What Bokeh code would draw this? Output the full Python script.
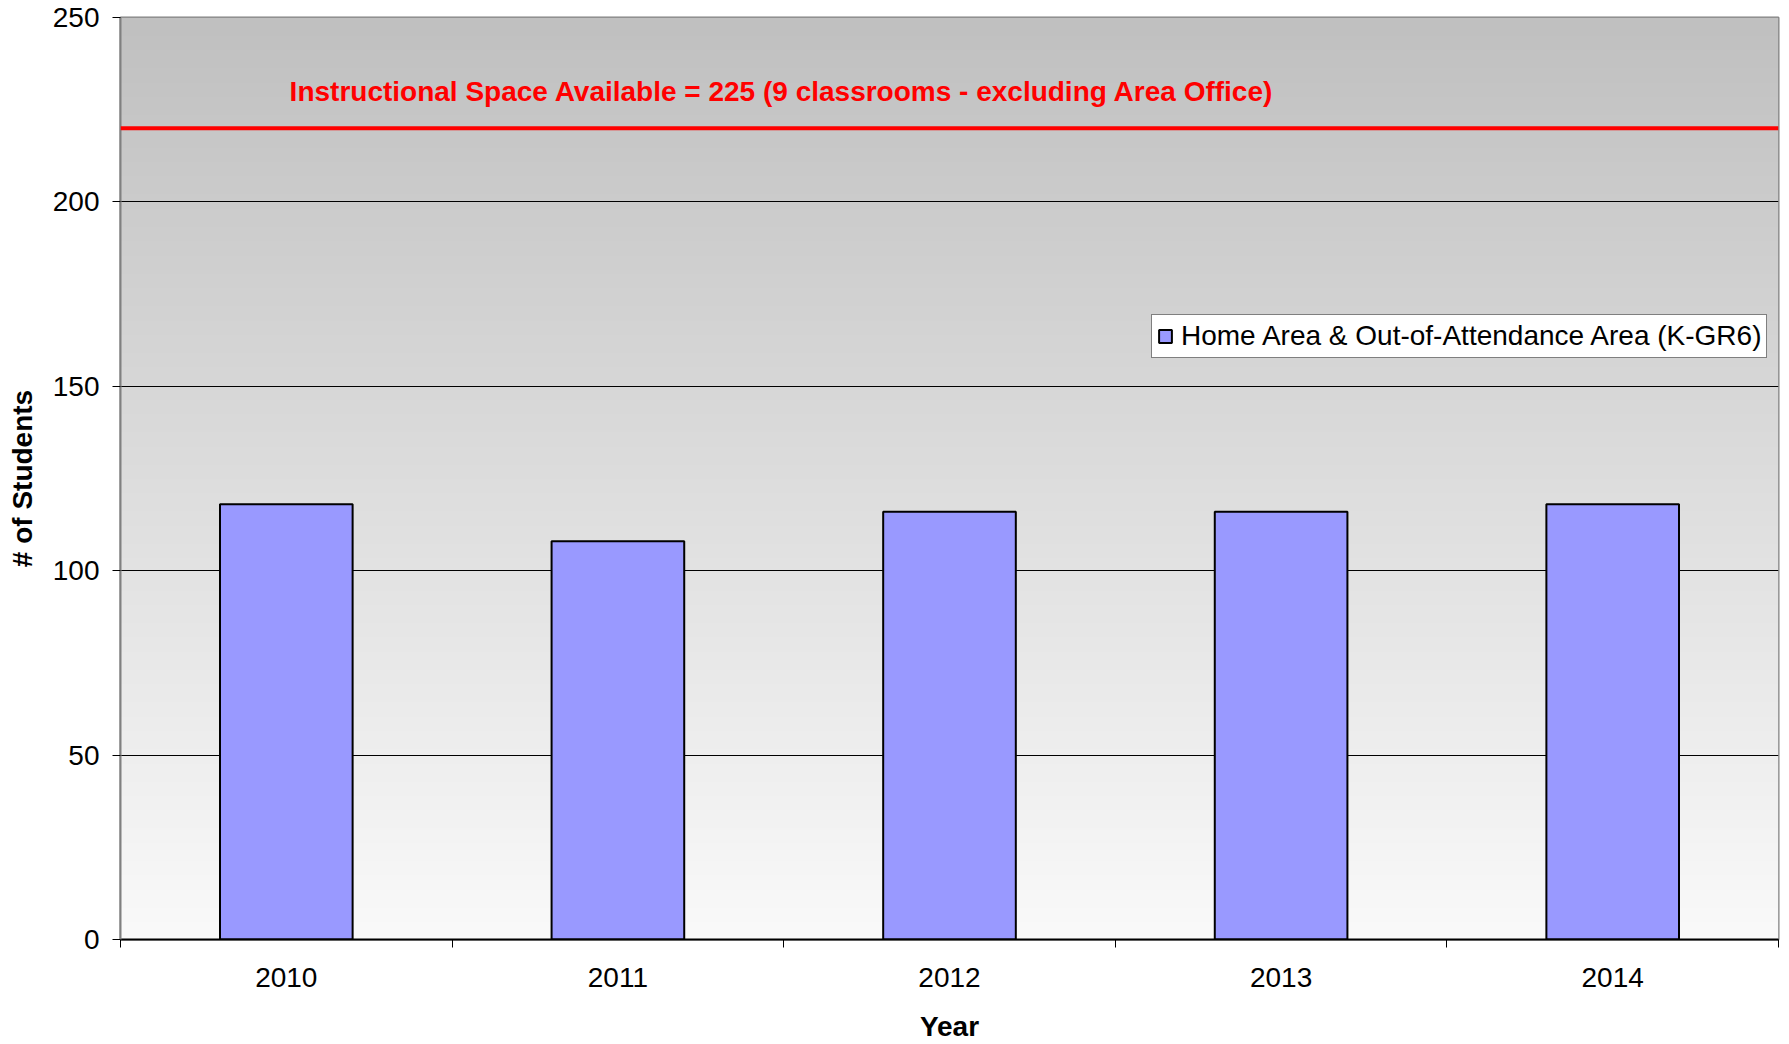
import numpy as np
from bokeh.plotting import figure
from bokeh.models import (Range1d, FixedTicker, Span, Label, Legend, LegendItem,
                          ColumnDataSource)
from bokeh.embed import file_html
from bokeh.resources import INLINE

# ---- data ----
years = ["2010", "2011", "2012", "2013", "2014"]
students = [118, 108, 116, 116, 118]
capacity_line = 220
capacity_text = "Instructional Space Available = 225 (9 classrooms - excluding Area Office)"
series_name = "Home Area & Out-of-Attendance Area (K-GR6)"
y_ticks = [0, 50, 100, 150, 200, 250]

FONT = "Liberation Sans"
FS = "28px"

xpos = [i + 0.5 for i in range(len(years))]
src = ColumnDataSource(dict(x=xpos, top=students, year=years))

p = figure(width=1789, height=1044, output_backend="svg", toolbar_location=None,
           x_range=Range1d(0, len(years)), y_range=Range1d(0, 250),
           min_border_left=120, min_border_right=11, min_border_top=17,
           min_border_bottom=105)
p.background_fill_color = "white"
p.border_fill_color = "white"
p.outline_line_color = "#808080"
p.outline_line_width = 2

# gradient background of the plot area
n = 256
img = np.empty((n, 1), dtype=np.uint32)
view = img.view(dtype=np.uint8).reshape((n, 1, 4))
g = np.linspace(250, 192, n).astype(np.uint8)
view[:, 0, 0] = g
view[:, 0, 1] = g
view[:, 0, 2] = g
view[:, 0, 3] = 255
p.image_rgba(image=[img], x=0, y=0, dw=len(years), dh=250, level="image")

# grid
p.xgrid.visible = False
p.ygrid.ticker = FixedTicker(ticks=[50, 100, 150, 200])
p.ygrid.grid_line_color = "black"
p.ygrid.grid_line_width = 1

# bars
bars = p.vbar(x="x", top="top", width=0.4, source=src, fill_color="#9999FF",
              line_color="black", line_width=2)

# capacity line & label
p.add_layout(Span(location=capacity_line, dimension="width", line_color="#FF0000",
                  line_width=4))
p.add_layout(Label(x=0.51, y=230, text=capacity_text, text_color="#FF0000",
                   text_font=FONT, text_font_size=FS, text_font_style="bold",
                   text_baseline="alphabetic"))

# axes
xa = p.xaxis[0]
xa.ticker = FixedTicker(ticks=xpos, minor_ticks=list(range(len(years) + 1)))
xa.major_label_overrides = {x: y for x, y in zip(xpos, years)}
xa.major_tick_out = 0
xa.major_tick_in = 0
xa.major_tick_line_color = None
xa.minor_tick_out = 8
xa.minor_tick_in = 0
xa.minor_tick_line_color = "black"
xa.axis_line_color = "black"
xa.axis_line_width = 2
xa.major_label_text_font = FONT
xa.major_label_text_font_size = FS
xa.major_label_text_color = "black"
xa.major_label_standoff = 20
xa.axis_label = "Year"
xa.axis_label_text_font = FONT
xa.axis_label_text_font_size = FS
xa.axis_label_text_font_style = "bold"
xa.axis_label_text_color = "black"
xa.axis_label_standoff = 21

ya = p.yaxis[0]
ya.ticker = FixedTicker(ticks=y_ticks)
ya.minor_tick_line_color = None
ya.major_tick_out = 8
ya.major_tick_in = 0
ya.major_tick_line_color = "black"
ya.axis_line_color = "#808080"
ya.axis_line_width = 2
ya.major_label_text_font = FONT
ya.major_label_text_font_size = FS
ya.major_label_text_color = "black"
ya.major_label_standoff = 13
ya.axis_label = "# of Students"
ya.axis_label_text_font = FONT
ya.axis_label_text_font_size = FS
ya.axis_label_text_font_style = "bold"
ya.axis_label_text_color = "black"
ya.axis_label_standoff = 12

# legend
legend = Legend(items=[LegendItem(label=series_name, renderers=[bars])],
                location=(1031, 581), orientation="vertical",
                label_text_font=FONT, label_text_font_size=FS,
                label_text_color="black",
                glyph_width=16, glyph_height=16, label_standoff=8,
                padding=5, margin=0, spacing=0,
                border_line_color="black", border_line_width=1,
                background_fill_color="white", background_fill_alpha=1)
p.add_layout(legend, "center")

open("out.html", "w").write(file_html(p, INLINE))
